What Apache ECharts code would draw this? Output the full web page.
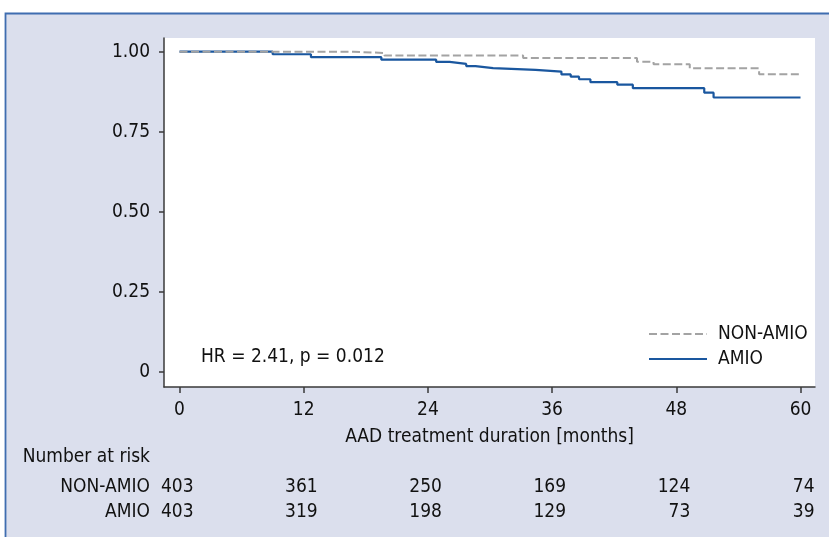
<!DOCTYPE html>
<html>
<head>
<meta charset="utf-8">
<script src="https://cdn.jsdelivr.net/npm/echarts@6/dist/echarts.min.js"></script>
<style>
html,body{margin:0;padding:0;background:#fff;}
#c{width:829px;height:537px;}
</style>
</head>
<body>
<div id="c"></div>
<script>
// ---- data ----
const monthTicks = [0, 12, 24, 36, 48, 60];
const yTicks = [0, 0.25, 0.5, 0.75, 1];
const nonAmioT = [0, 16.8, 19.8, 33.2, 44.2, 45.8, 49.3, 56.0, 60];
const nonAmioS = [1.0, 0.996, 0.988, 0.980, 0.969, 0.961, 0.948, 0.930, 0.930];
const amioT = [0, 9.0, 12.7, 19.5, 24.8, 26.1, 27.7, 28.6, 30.3, 34.4, 36.9, 37.8, 38.6, 39.7, 42.3, 43.8, 50.7, 51.6, 60];
const amioS = [1.0, 0.992, 0.983, 0.975, 0.968, 0.962, 0.955, 0.949, 0.943, 0.938, 0.929, 0.922, 0.914, 0.905, 0.897, 0.886, 0.872, 0.857, 0.857];
const riskGroups = ['AMIO', 'NON-AMIO'];
const riskNonAmio = [403, 361, 250, 169, 124, 74];
const riskAmio = [403, 319, 198, 129, 73, 39];
const seriesNames = ['NON-AMIO', 'AMIO'];
const annotation = 'HR = 2.41, p = 0.012';
const xTitle = 'AAD treatment duration [months]';
const riskTitle = 'Number at risk';

// ---- chart ----
const FONT = "'DejaVu Sans Condensed','Liberation Sans Narrow',sans-serif";
const FS = 19;
const TXT = '#111111';
const BLUE = '#1a579f';
const GRAY = '#a3a3a3';
const AX = '#3a3a3a';

const zip = (a, b) => a.map((v, i) => [v, b[i]]);
const riskData = [];
monthTicks.forEach((m, i) => {
  riskData.push([m, 'NON-AMIO', riskNonAmio[i]]);
  riskData.push([m, 'AMIO', riskAmio[i]]);
});

const chart = echarts.init(document.getElementById('c'), null, {renderer: 'canvas'});
chart.setOption({
  animation: false,
  textStyle: {fontFamily: FONT},
  graphic: [
    {type: 'rect', z: -10, shape: {x: 5.5, y: 13.5, width: 900, height: 600},
     style: {fill: '#dbdfed', stroke: '#3f6db0', lineWidth: 1.8}},
    {type: 'text', z: 10, x: 201, y: 357,
     style: {text: annotation, font: FS + 'px ' + FONT, fill: TXT, verticalAlign: 'middle'}},
    {type: 'line', z: 10, shape: {x1: 649, y1: 334, x2: 707, y2: 334},
     style: {stroke: GRAY, lineWidth: 2, lineDash: [8, 3.5]}},
    {type: 'line', z: 10, shape: {x1: 649, y1: 359, x2: 707, y2: 359},
     style: {stroke: BLUE, lineWidth: 2.2}},
    {type: 'text', z: 10, x: 718, y: 334,
     style: {text: seriesNames[0], font: FS + 'px ' + FONT, fill: TXT, verticalAlign: 'middle'}},
    {type: 'text', z: 10, x: 718, y: 359,
     style: {text: seriesNames[1], font: FS + 'px ' + FONT, fill: TXT, verticalAlign: 'middle'}},
    {type: 'text', z: 10, x: 150, y: 457,
     style: {text: riskTitle, font: FS + 'px ' + FONT, fill: TXT, align: 'right', verticalAlign: 'middle'}}
  ],
  grid: [
    {left: 164, right: 14, top: 38, bottom: 150, show: true, backgroundColor: '#ffffff', borderWidth: 0},
    {left: 164, right: 14, top: 475, height: 50, show: false}
  ],
  xAxis: [
    {type: 'value', gridIndex: 0, min: -1.498, max: 61.40,
     name: xTitle, nameLocation: 'middle', nameGap: 41,
     nameTextStyle: {fontSize: FS, color: TXT, fontFamily: FONT},
     axisLine: {show: true, onZero: false, lineStyle: {color: AX, width: 1.5}},
     axisTick: {show: true, length: 6, customValues: monthTicks, lineStyle: {color: AX, width: 1.5}},
     axisLabel: {show: true, customValues: monthTicks, margin: 14, fontSize: FS, color: TXT, fontFamily: FONT},
     splitLine: {show: false}},
    {type: 'value', gridIndex: 1, min: -1.498, max: 61.40, show: false}
  ],
  yAxis: [
    {type: 'value', gridIndex: 0, min: -0.0468, max: 1.0428,
     axisLine: {show: true, onZero: false, lineStyle: {color: AX, width: 1.5}},
     axisTick: {show: true, length: 5, customValues: yTicks, lineStyle: {color: AX, width: 1.5}},
     axisLabel: {show: true, customValues: yTicks, margin: 14, fontSize: FS, color: TXT, fontFamily: FONT,
       formatter: v => (v === 0 ? '0' : v.toFixed(2))},
     splitLine: {show: false}},
    {type: 'category', gridIndex: 1, data: riskGroups,
     axisLine: {show: false}, axisTick: {show: false}, splitLine: {show: false},
     axisLabel: {show: true, interval: 0, margin: 14, fontSize: FS, color: TXT, fontFamily: FONT}}
  ],
  series: [
    {name: seriesNames[1], type: 'line', xAxisIndex: 0, yAxisIndex: 0, step: 'end', symbol: 'none', z: 2,
     data: zip(amioT, amioS), lineStyle: {color: BLUE, width: 2.2}},
    {name: seriesNames[0], type: 'line', xAxisIndex: 0, yAxisIndex: 0, step: 'end', symbol: 'none', z: 3,
     data: zip(nonAmioT, nonAmioS), lineStyle: {color: GRAY, width: 2, type: [8, 3.5]}},
    {type: 'scatter', xAxisIndex: 1, yAxisIndex: 1, symbolSize: 0, silent: true, data: riskData,
     itemStyle: {opacity: 1},
     label: {show: true, position: [14, 0], align: 'right', verticalAlign: 'middle',
       fontSize: FS, color: TXT, fontFamily: FONT, formatter: p => String(p.value[2])}}
  ]
});
</script>
</body>
</html>
